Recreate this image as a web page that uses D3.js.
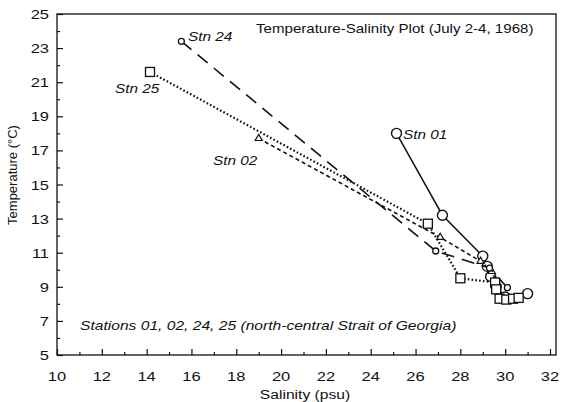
<!DOCTYPE html>
<html>
<head>
<meta charset="utf-8">
<script src="https://cdn.jsdelivr.net/npm/d3@7"></script>
<style>
  body { margin: 0; background: #fff; }
  text { font-family: "Liberation Sans", Arial, sans-serif; fill: #111; }
</style>
</head>
<body>
<div id="canvas"></div>
<script>
// T-S data (salinity psu, temperature C)
var stn01Sal  = [25.15, 27.2, 29.0, 29.2, 29.35, 29.6, 30.0, 31.0];
var stn01Temp = [18.0, 13.2, 10.8, 10.2, 9.6, 9.0, 8.4, 8.6];

var stn02Sal  = [19.0, 27.1, 28.9, 29.4, 29.6];
var stn02Temp = [17.7, 11.9, 10.5, 9.9, 9.3];

var stn24Sal  = [15.55, 26.9, 29.3, 30.1];
var stn24Temp = [23.4, 11.1, 10.1, 8.95];

var stn25Sal  = [14.15, 26.55, 28.0, 29.55, 29.6, 29.75, 30.05, 30.35, 30.6];
var stn25Temp = [21.6, 12.7, 9.5, 9.25, 8.85, 8.3, 8.25, 8.3, 8.35];

var xTicks = [10, 12, 14, 16, 18, 20, 22, 24, 26, 28, 30, 32];
var yTicks = [5, 7, 9, 11, 13, 15, 17, 19, 21, 23, 25];

var width = 561, height = 402;
var mLeft = 57, mRight = 550, mTop = 14, mBottom = 355, frameRight = 556;

var svg = d3.select("#canvas").append("svg")
    .attr("width", width)
    .attr("height", height);

var x = d3.scaleLinear().domain([10, 32]).range([mLeft, mRight]);
var y = d3.scaleLinear().domain([5, 25]).range([mBottom, mTop]);

// scanned lettering is wider than the font, stretch it a bit
function stretch(sel, k) {
    sel.each(function () {
        var len = this.getComputedTextLength();
        d3.select(this).attr("textLength", len * k).attr("lengthAdjust", "spacingAndGlyphs");
    });
    return sel;
}

// frame
svg.append("rect")
    .attr("x", mLeft).attr("y", mTop)
    .attr("width", frameRight - mLeft).attr("height", mBottom - mTop)
    .attr("fill", "none").attr("stroke", "#111").attr("stroke-width", 1.3);

// x axis (ticks inward)
svg.append("g")
    .attr("transform", "translate(0," + mBottom + ")")
    .call(d3.axisTop(x).tickValues(d3.range(11, 32, 2)).tickSize(3).tickFormat(""))
    .call(function (g) { g.select(".domain").remove(); });
svg.append("g")
    .attr("transform", "translate(0," + mBottom + ")")
    .call(d3.axisTop(x).tickValues(xTicks).tickSize(6).tickFormat(""))
    .call(function (g) { g.select(".domain").remove(); });
xTicks.forEach(function (t) {
    stretch(svg.append("text").attr("x", x(t)).attr("y", 381)
        .attr("text-anchor", "middle").attr("font-size", 13.5).text(t), 1.22);
});

// y axis (ticks inward)
svg.append("g")
    .attr("transform", "translate(" + mLeft + ",0)")
    .call(d3.axisRight(y).tickValues(d3.range(6, 25, 2)).tickSize(3).tickFormat(""))
    .call(function (g) { g.select(".domain").remove(); });
svg.append("g")
    .attr("transform", "translate(" + mLeft + ",0)")
    .call(d3.axisRight(y).tickValues(yTicks).tickSize(6).tickFormat(""))
    .call(function (g) { g.select(".domain").remove(); });
yTicks.forEach(function (t) {
    stretch(svg.append("text").attr("x", 49).attr("y", y(t) + 5)
        .attr("text-anchor", "end").attr("font-size", 13.5).text(t), 1.22);
});
svg.selectAll(".tick line").attr("stroke", "#111").attr("stroke-width", 1.2);

// axis titles
stretch(svg.append("text").attr("x", 305).attr("y", 399)
    .attr("text-anchor", "middle").attr("font-size", 12.5).text("Salinity (psu)"), 1.25);
svg.append("text")
    .attr("transform", "translate(17,175) rotate(-90)")
    .attr("text-anchor", "middle").attr("font-size", 13).text("Temperature (\u00b0C)");

// series
var series = [
    {sal: stn01Sal, temp: stn01Temp, dash: null,      w: 1.5, mark: "circle"},
    {sal: stn02Sal, temp: stn02Temp, dash: "4,3",     w: 1.6, mark: "tri"},
    {sal: stn24Sal, temp: stn24Temp, dash: "13,8",    w: 1.6, mark: "small"},
    {sal: stn25Sal, temp: stn25Temp, dash: "1.6,2.2", w: 2.2, mark: "square"}
];

var line = d3.line().x(function (d) { return x(d[0]); }).y(function (d) { return y(d[1]); });

series.forEach(function (s) {
    var pts = s.sal.map(function (v, i) { return [v, s.temp[i]]; });
    svg.append("path").datum(pts)
        .attr("d", line)
        .attr("fill", "none")
        .attr("stroke", "#111")
        .attr("stroke-width", s.w)
        .attr("stroke-dasharray", s.dash);

    var g = svg.append("g").selectAll("g").data(pts).enter().append("g");
    if (s.mark === "circle") {
        g.append("circle").attr("cx", function (d) { return x(d[0]); })
            .attr("cy", function (d) { return y(d[1]); })
            .attr("r", 5).attr("fill", "#fff").attr("stroke", "#111").attr("stroke-width", 1.4);
    } else if (s.mark === "small") {
        g.append("circle").attr("cx", function (d) { return x(d[0]); })
            .attr("cy", function (d) { return y(d[1]); })
            .attr("r", 3).attr("fill", "#fff").attr("stroke", "#111").attr("stroke-width", 1.3);
    } else if (s.mark === "square") {
        g.append("rect").attr("x", function (d) { return x(d[0]) - 4.5; })
            .attr("y", function (d) { return y(d[1]) - 4.5; })
            .attr("width", 9).attr("height", 9)
            .attr("fill", "#fff").attr("stroke", "#111").attr("stroke-width", 1.3);
    } else {
        g.append("path").attr("d", d3.symbol().type(d3.symbolTriangle).size(22))
            .attr("transform", function (d) { return "translate(" + x(d[0]) + "," + y(d[1]) + ")"; })
            .attr("fill", "#fff").attr("stroke", "#111").attr("stroke-width", 1.2);
    }
});

// annotations
stretch(svg.append("text").attr("x", 256).attr("y", 33).attr("font-size", 13)
    .text("Temperature-Salinity Plot (July 2-4, 1968)"), 1.16);
var labels = [
    ["Stn 24", 188, 41], ["Stn 25", 115, 93], ["Stn 02", 213, 165], ["Stn 01", 403, 139]
];
labels.forEach(function (l) {
    stretch(svg.append("text").attr("x", l[1]).attr("y", l[2]).attr("font-size", 13)
        .attr("font-style", "italic").text(l[0]), 1.18);
});
stretch(svg.append("text").attr("x", 80).attr("y", 330).attr("font-size", 13)
    .attr("font-style", "italic").text("Stations 01, 02, 24, 25 (north-central Strait of Georgia)"), 1.2);
</script>
</body>
</html>
